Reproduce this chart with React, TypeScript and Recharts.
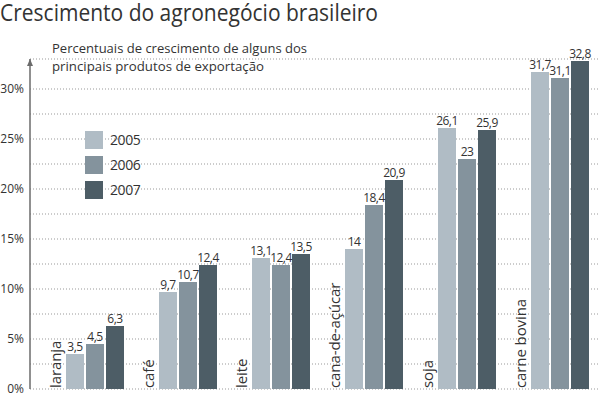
import React from 'react';
import { BarChart, Bar, XAxis, YAxis, CartesianGrid, Legend, LabelList } from 'recharts';

const categories = ['laranja', 'café', 'leite', 'cana-de-açúcar', 'soja', 'carne bovina'];
const values2005 = [3.5, 9.7, 13.1, 14, 26.1, 31.7];
const values2006 = [4.5, 10.7, 12.4, 18.4, 23, 31.1];
const values2007 = [6.3, 12.4, 13.5, 20.9, 25.9, 32.8];
const yTicks = [0, 2.5, 5, 7.5, 10, 12.5, 15, 17.5, 20, 22.5, 25, 27.5, 30];

const colors = { y2005: '#b0bcc5', y2006: '#84939d', y2007: '#4d5d66' };
const textColor = '#333';
const font = '"Open Sans", sans-serif';

const data = categories.map((name, i) => ({
  name,
  y2005: values2005[i],
  y2006: values2006[i],
  y2007: values2007[i],
}));

const fmt = (v: any) => String(v).replace('.', ',');

// vertical category label to the left of each bar group
function CategoryTick(props: any) {
  const { x, y, payload } = props;
  const lx = x - 40;
  return (
    <text
      x={lx}
      y={y - 1}
      transform={`rotate(-90, ${lx}, ${y - 1})`}
      textAnchor="start"
      dominantBaseline="central"
      fontSize={15}
      fill={textColor}
      fontFamily={font}
      letterSpacing={-0.1}
    >
      {payload.value}
    </text>
  );
}

function LegendContent(props: any) {
  const { payload } = props;
  return (
    <div>
      {(payload || []).map((p: any) => (
        <div key={p.value} style={{ display: 'flex', alignItems: 'center', height: 25 }}>
          <div style={{ width: 18, height: 18, background: p.color, marginRight: 7 }} />
          <span style={{ fontSize: 14, color: textColor, letterSpacing: -0.4 }}>{p.value}</span>
        </div>
      ))}
    </div>
  );
}

export default function App() {
  return (
    <div
      style={{
        position: 'absolute',
        left: 0,
        top: 0,
        width: 600,
        height: 395,
        overflow: 'hidden',
        background: '#fff',
        fontFamily: font,
      }}
    >
      <svg width={0} height={0} style={{ position: 'absolute' }}>
        <defs>
          <marker
            id="arrowUp"
            viewBox="0 0 7 6"
            refX={7}
            refY={3}
            markerWidth={7}
            markerHeight={6}
            markerUnits="userSpaceOnUse"
            orient="auto-start-reverse"
          >
            <path d="M0,0 L7,3 L0,6 z" fill="#6b6b6b" />
          </marker>
        </defs>
      </svg>

      <svg width={600} height={80} style={{ position: 'absolute', left: 0, top: 0 }}>
        <text x={0} y={21} fontSize={24} fill={textColor} fontFamily={font} textLength={378} lengthAdjust="spacingAndGlyphs">
          Crescimento do agronegócio brasileiro
        </text>
        <text x={52} y={53} fontSize={13} fill={textColor} fontFamily={font} textLength={255} lengthAdjust="spacingAndGlyphs">
          Percentuais de crescimento de alguns dos
        </text>
        <text x={52} y={71} fontSize={13} fill={textColor} fontFamily={font} textLength={212} lengthAdjust="spacingAndGlyphs">
          principais produtos de exportação
        </text>
      </svg>

      <div style={{ position: 'absolute', left: 0, top: 0 }}>
        <BarChart
          width={606}
          height={395}
          data={data}
          margin={{ top: 59, right: 0, left: 0, bottom: 5 }}
          barSize={18}
          barGap={2}
        >
          <CartesianGrid vertical={false} stroke="#999" strokeDasharray="1 2" />
          <XAxis
            dataKey="name"
            height={1}
            padding={{ left: 18, right: 0 }}
            axisLine={false}
            tickLine={false}
            tickSize={0}
            tickMargin={0}
            interval={0}
            tick={<CategoryTick />}
          />
          <YAxis
            width={30}
            domain={[0, 33]}
            ticks={yTicks}
            interval={0}
            tickFormatter={(v: number) => (v % 5 === 0 ? `${v}%` : '')}
            tickLine={false}
            tickSize={0}
            tickMargin={6}
            tick={{ fontSize: 12, fill: textColor, fontFamily: font, dy: '0.25em' }}
            axisLine={{ stroke: '#6b6b6b', strokeWidth: 1.5, markerStart: 'url(#arrowUp)' }}
          />
          <Legend
            layout="vertical"
            align="center"
            verticalAlign="middle"
            content={<LegendContent />}
            wrapperStyle={{ position: 'absolute', left: 85, top: 127, width: 'auto', bottom: 'auto' }}
          />
          <Bar dataKey="y2005" name="2005" fill={colors.y2005} isAnimationActive={false}>
            <LabelList dataKey="y2005" position="top" offset={3} formatter={fmt} fontSize={12} fill={textColor} fontFamily={font} letterSpacing={-0.5} />
          </Bar>
          <Bar dataKey="y2006" name="2006" fill={colors.y2006} isAnimationActive={false}>
            <LabelList dataKey="y2006" position="top" offset={3} formatter={fmt} fontSize={12} fill={textColor} fontFamily={font} letterSpacing={-0.5} />
          </Bar>
          <Bar dataKey="y2007" name="2007" fill={colors.y2007} isAnimationActive={false}>
            <LabelList dataKey="y2007" position="top" offset={3} formatter={fmt} fontSize={12} fill={textColor} fontFamily={font} letterSpacing={-0.5} />
          </Bar>
        </BarChart>
      </div>
    </div>
  );
}
